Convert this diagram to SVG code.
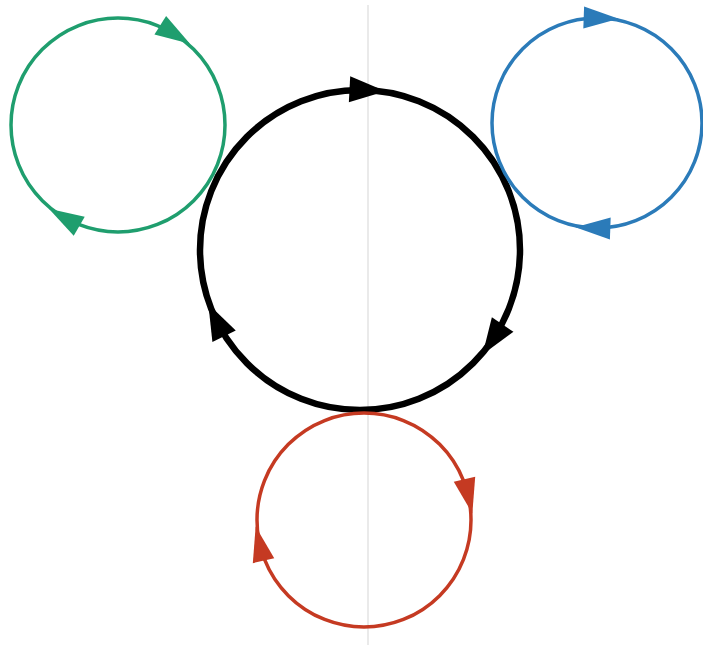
<svg xmlns="http://www.w3.org/2000/svg" width="703" height="645" viewBox="0 0 703 645">
<style>
.ring{fill:none}
.blk{stroke:#000;stroke-width:6.5}
.grn{stroke:#1f9e6e;stroke-width:3.5}
.blu{stroke:#2b7bb9;stroke-width:3.5}
.red{stroke:#c53a22;stroke-width:3.5}
</style>
<defs>
<path id="ahB" d="M18,0 L-18,-13 L-18,13 Z"/>
<path id="ahS" d="M18,0 L-17,-11 L-17,11 Z"/>
</defs>
<rect width="703" height="645" fill="#fff"/>
<g id="axis"><line x1="368" y1="5" x2="368" y2="645" stroke="#dcdcdc" stroke-width="1.2"/></g>
<g id="black-loop">
<circle class="ring blk" cx="360" cy="250" r="160"/>
<use href="#ahB" fill="#000" transform="translate(367.5,90.2) rotate(3)"/>
<use href="#ahB" fill="#000" transform="translate(492.6,339.5) rotate(124)"/>
<use href="#ahB" fill="#000" transform="translate(216.2,320.1) rotate(244)"/>
</g>
<g id="green-loop">
<circle class="ring grn" cx="118" cy="125" r="107"/>
<use href="#ahS" fill="#1f9e6e" transform="translate(174.7,34.3) rotate(32)"/>
<use href="#ahS" fill="#1f9e6e" transform="translate(64.5,217.7) rotate(210)"/>
</g>
<g id="blue-loop">
<circle class="ring blu" cx="597" cy="123" r="105"/>
<use href="#ahS" fill="#2b7bb9" transform="translate(600.7,18.1) rotate(2)"/>
<use href="#ahS" fill="#2b7bb9" transform="translate(593.3,227.9) rotate(182)"/>
</g>
<g id="red-loop">
<circle class="ring red" cx="364" cy="520" r="107"/>
<use href="#ahS" fill="#c53a22" transform="translate(468.3,495.9) rotate(77)"/>
<use href="#ahS" fill="#c53a22" transform="translate(259.7,544.1) rotate(257)"/>
</g>
</svg>
